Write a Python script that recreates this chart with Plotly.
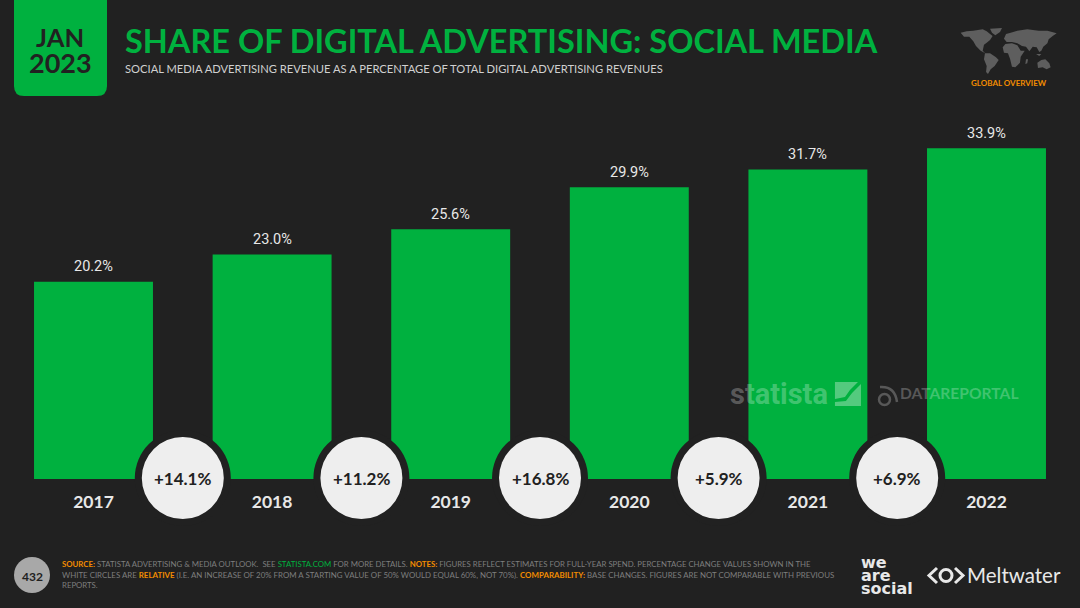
import plotly.graph_objects as go

years = ['2017', '2018', '2019', '2020', '2021', '2022']
share = [20.2, 23.0, 25.6, 29.9, 31.7, 33.9]
growth = [14.1, 11.2, 16.8, 5.9, 6.9]

title = 'SHARE OF DIGITAL ADVERTISING: SOCIAL MEDIA'
subtitle = 'SOCIAL MEDIA ADVERTISING REVENUE AS A PERCENTAGE OF TOTAL DIGITAL ADVERTISING REVENUES'

BG = '#212121'
GREEN = '#00B13F'
ORANGE = '#F28C00'
GREY = '#7E7E7E'
HEAD = 'Lato'
NARROW = 'Roboto'

W, H = 1080, 608
BASE = 479
STEP = 178.6
FIRST = 93.5


def px(x):
	return x / W


def py(y):
	return (BASE - y) / BASE


def poly(points, scale=1, ox=0, oy=0):
	pts = [(ox + a / scale, oy + b / scale) for a, b in points]
	return 'M' + ' L'.join(f'{px(a):.4f},{py(b):.4f}' for a, b in pts) + ' Z'


def note(text, x, y, size, color, bold=False, anchor='left', family=HEAD):
	return dict(text=text, x=px(x), y=py(y), xref='paper', yref='paper',
				xanchor=anchor, yanchor='middle', align='left', showarrow=False,
				font=dict(size=size, color=color, family=family, weight=700 if bold else 400))


fig = go.Figure(go.Bar(
	x=list(range(len(years))),
	y=share,
	marker=dict(color=GREEN, line=dict(width=0)),
	hoverinfo='skip',
))

shapes = []

# header box with rounded bottom corners
shapes.append(dict(type='path', xref='paper', yref='paper', fillcolor=GREEN, line=dict(width=0),
	path=f'M{px(14)},{py(0)} L{px(107)},{py(0)} L{px(107)},{py(86)} '
		 f'Q{px(107)},{py(96)} {px(97)},{py(96)} L{px(24)},{py(96)} '
		 f'Q{px(14)},{py(96)} {px(14)},{py(86)} Z'))

# growth circles sit between the bars, on the baseline
# paper refs here, shapes on the data axes get clipped at the plot edge
for i in range(len(growth)):
	cx = FIRST + STEP * (i + 0.5)
	for r, c in [(48, BG), (41, '#EEEEEE')]:
		shapes.append(dict(type='circle', xref='paper', yref='paper',
			x0=px(cx - r), x1=px(cx + r), y0=py(478 + r), y1=py(478 - r),
			fillcolor=c, line=dict(width=0)))

# world map, rough outlines traced off a 3x crop
world = [
	[(62, 68), (80, 64), (100, 62), (128, 58), (140, 64), (150, 72), (158, 78), (150, 90), (140, 98), (132, 104), (128, 122), (136, 130), (122, 122), (108, 108), (100, 94), (88, 80), (72, 80)],
	[(150, 56), (186, 54), (180, 66), (166, 76), (156, 68)],
	[(135, 130), (150, 130), (168, 142), (176, 150), (164, 168), (152, 178), (144, 192), (138, 186), (140, 168), (132, 148)],
	[(192, 86), (198, 72), (212, 68), (232, 62), (262, 58), (296, 62), (322, 62), (350, 70), (338, 78), (326, 88), (322, 100), (310, 110), (304, 122), (298, 126), (290, 112), (278, 110), (268, 124), (258, 110), (246, 108), (232, 100), (216, 96), (200, 96)],
	[(188, 112), (196, 102), (216, 100), (232, 106), (242, 122), (254, 122), (242, 140), (240, 158), (226, 172), (216, 170), (210, 146), (204, 130), (192, 128)],
	[(292, 158), (304, 150), (316, 148), (328, 160), (332, 172), (320, 178), (308, 172), (294, 174)],
	[(258, 148), (264, 148), (262, 160), (256, 162)],
	[(288, 132), (304, 132), (298, 138)],
]
for w in world:
	shapes.append(dict(type='path', xref='paper', yref='paper', fillcolor='#5E5E5E',
		line=dict(width=0), path=poly(w, 3, 940, 10)))

# page number
shapes.append(dict(type='circle', xref='paper', yref='paper', fillcolor='#A8A8A8', line=dict(width=0),
	x0=px(14), x1=px(50), y0=py(593), y1=py(557)))

# statista square, two halves either side of the curve
for pts in [[(835, 382), (858, 382), (850, 390), (845, 397), (835, 399)],
			[(861, 384), (861, 406), (835, 406), (835, 402), (846, 401), (852, 393)]]:
	shapes.append(dict(type='path', xref='paper', yref='paper', fillcolor='rgba(255,255,255,0.33)',
		line=dict(width=0), path=poly(pts)))

# datareportal icon
shapes.append(dict(type='circle', xref='paper', yref='paper', fillcolor='rgba(0,0,0,0)',
	line=dict(width=2.5, color='rgba(255,255,255,0.25)'),
	x0=px(879), x1=px(890), y0=py(405), y1=py(394)))
shapes.append(dict(type='path', xref='paper', yref='paper', line=dict(width=2.5, color='rgba(255,255,255,0.25)'),
	path=f'M{px(880)},{py(387)} Q{px(895)},{py(386)} {px(897)},{py(402)}'))

# meltwater mark
for pts in [[(937, 568), (929, 575.5), (937, 583)], [(955, 568), (963, 575.5), (955, 583)]]:
	shapes.append(dict(type='path', xref='paper', yref='paper', line=dict(width=3, color='#E8E8E8'),
		path='M' + ' L'.join(f'{px(a)},{py(b)}' for a, b in pts)))
shapes.append(dict(type='circle', xref='paper', yref='paper', fillcolor='rgba(0,0,0,0)',
	line=dict(width=3, color='#E8E8E8'),
	x0=px(940), x1=px(952), y0=py(581.5), y1=py(569.5)))

annotations = [
	note('JAN', 60, 37, 25.5, '#212121', True, 'center'),
	note('2023', 60, 63, 27, '#212121', True, 'center'),
	note(title, 122.5, 40, 32.5, GREEN, True),
	note(subtitle, 122.5, 69, 11.2, '#D0D0D0'),
	note('GLOBAL OVERVIEW', 1008.5, 83, 8, ORANGE, True, 'center'),
	note('statista', 728, 394, 29, 'rgba(255,255,255,0.27)', True, family=NARROW),
	note('DATAREPORTAL', 898, 393, 15.6, 'rgba(255,255,255,0.25)', True),
	note('432', 32, 576, 12, BG, True, 'center'),
	note('we', 859, 562, 16, '#E8E8E8', True, family='DejaVu Sans'),
	note('are', 859, 575, 16, '#E8E8E8', True, family='DejaVu Sans'),
	note('social', 859, 588, 16, '#E8E8E8', True, family='DejaVu Sans'),
	note('Meltwater', 965, 575, 20.5, '#E8E8E8'),
]

# value labels, bar text sits too close to the bar so these are annotations
for i, v in enumerate(share):
	annotations.append(dict(text=f'{v:.1f}%', x=i, y=v, xref='x', yref='y', yanchor='middle',
		yshift=15, showarrow=False, font=dict(size=14.5, color='#E8E8E8', family=NARROW)))

for i, g in enumerate(growth):
	annotations.append(note(f'+{g}%', FIRST + STEP * (i + 0.5), 478, 17, BG, True, 'center'))


def tag(word, color=ORANGE):
	return f'<span style="color:{color}"><b>{word}</b></span>'


footer = [
	(tag('SOURCE:') + ' STATISTA ADVERTISING &amp; MEDIA OUTLOOK.  SEE ' + f'<span style="color:{GREEN}">STATISTA.COM</span>'
	 + ' FOR MORE DETAILS. ' + tag('NOTES:') + ' FIGURES REFLECT ESTIMATES FOR FULL-YEAR SPEND. PERCENTAGE CHANGE VALUES SHOWN IN THE', 7.8),
	('WHITE CIRCLES ARE ' + tag('RELATIVE') + ' (I.E. AN INCREASE OF 20% FROM A STARTING VALUE OF 50% WOULD EQUAL 60%, NOT 70%). '
	 + tag('COMPARABILITY:') + ' BASE CHANGES. FIGURES ARE NOT COMPARABLE WITH PREVIOUS', 7.9),
	('REPORTS.', 7.8),
]
for n, (line, size) in enumerate(footer):
	annotations.append(note(line, 60, 564 + n * 10.7, size, GREY))

fig.update_layout(
	width=W, height=H,
	margin=dict(l=0, r=0, t=0, b=H - BASE, autoexpand=False),
	paper_bgcolor=BG,
	plot_bgcolor=BG,
	showlegend=False,
	bargap=0.334,
	shapes=shapes,
	annotations=annotations,
	xaxis=dict(
		range=[-FIRST / STEP, (W - FIRST) / STEP],
		tickmode='array',
		tickvals=list(range(len(years))),
		ticktext=years,
		ticks='outside', ticklen=7, tickcolor='rgba(0,0,0,0)',
		tickfont=dict(size=17.5, color='#E8E8E8', family=HEAD, weight=700),
		showgrid=False, zeroline=False, showline=False,
	),
	yaxis=dict(range=[0, BASE / 9.76], visible=False, showgrid=False, zeroline=False),
)

fig.write_html('out.html', config=dict(displayModeBar=False),
			   post_script="document.body.style.margin='0';document.body.style.overflow='hidden';")
